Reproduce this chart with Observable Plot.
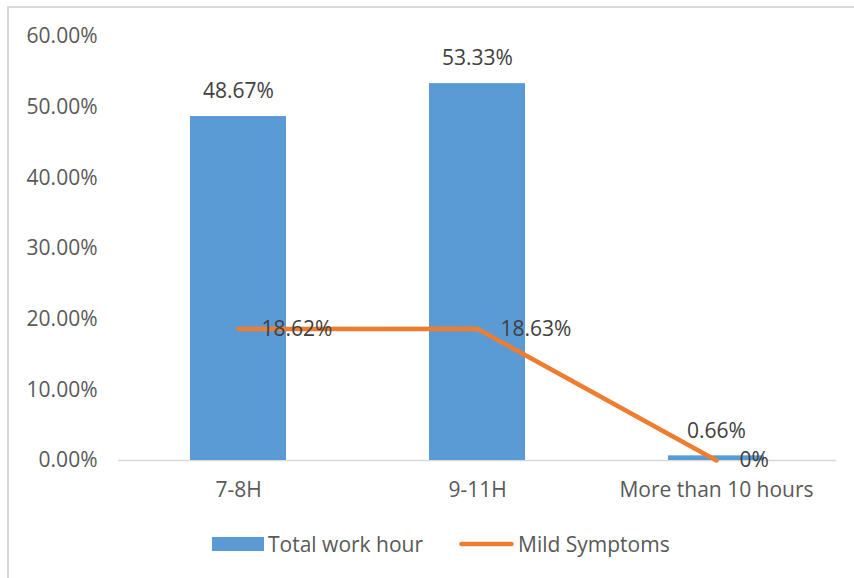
<!DOCTYPE html>
<html>
<head>
<meta charset="utf-8">
<script src="https://cdn.jsdelivr.net/npm/d3@7"></script>
<script src="https://cdn.jsdelivr.net/npm/@observablehq/plot@0.6"></script>
<style>
  html, body { margin: 0; padding: 0; background: #fff; }
  #wrap { position: relative; width: 854px; height: 578px; overflow: hidden; font-family: "Open Sans", sans-serif; }
  #frame { position: absolute; left: 7px; top: 6px; right: -10px; bottom: -10px; border-left: 2px solid #d9d9d9; border-top: 2px solid #d9d9d9; }
  #chart { position: absolute; left: 0; top: 0; }
  #legend { position: absolute; left: 0; top: 524px; width: 854px; height: 40px; font-size: 21px; color: #595959; }
  .item { position: absolute; top: 0; display: flex; align-items: center; height: 40px; }
  .sw { display: inline-block; margin-right: 4px; }
</style>
</head>
<body>
<div id="wrap">
  <div id="frame"></div>
  <div id="chart"></div>
  <div id="legend"></div>
</div>
<script>
// Share of respondents by daily working hours
const categories = ["7-8H", "9-11H", "More than 10 hours"];
const totalWorkHour = [0.4867, 0.5333, 0.0066];
const mildSymptoms = [0.1862, 0.1863, 0];
const yTicks = [0, 0.1, 0.2, 0.3, 0.4, 0.5, 0.6];

const seriesNames = ["Total work hour", "Mild Symptoms"];
const colors = ["#5b9bd5", "#ed7d31"];

const bars = categories.map((c, i) => ({category: c, value: totalWorkHour[i]}));
const line = categories.map((c, i) => ({category: c, value: mildSymptoms[i]}));

const pct2 = d3.format(".2%");
const pctLabel = v => v === 0 ? "0%" : pct2(v);

const chart = Plot.plot({
  width: 854,
  height: 520,
  marginLeft: 118,
  marginRight: 18,
  marginTop: 36,
  marginBottom: 60,
  style: {fontFamily: "Open Sans, sans-serif", fontSize: "21px", color: "#595959", background: "transparent"},
  x: {domain: categories, paddingInner: 0.6, paddingOuter: 0.3, label: null},
  y: {domain: [0, 0.6], label: null},
  marks: [
    Plot.axisY({ticks: yTicks, tickFormat: pct2, tickSize: 0, tickPadding: 21, fontSize: 21, fill: "#595959"}),
    Plot.axisX({tickSize: 0, tickPadding: 22, fontSize: 21, fill: "#595959"}),
    Plot.ruleY([0], {stroke: "#d9d9d9", strokeWidth: 1.5}),
    Plot.barY(bars, {x: "category", y: "value", fill: colors[0]}),
    Plot.text(bars, {x: "category", y: "value", text: d => pctLabel(d.value), dy: -25, fill: "#404040", fontSize: 21}),
    Plot.line(line, {x: "category", y: "value", stroke: colors[1], strokeWidth: 4.5, strokeLinecap: "round", strokeLinejoin: "round"}),
    Plot.text(line, {x: "category", y: "value", text: d => pctLabel(d.value), textAnchor: "start", dx: 23, fill: "#404040", fontSize: 21})
  ]
});
document.getElementById("chart").appendChild(chart);

// Legend below the plot
const legend = d3.select("#legend");
const item1 = legend.append("div").attr("class", "item").style("left", "212px");
item1.append("span").attr("class", "sw").style("width", "52px").style("height", "14px").style("background", colors[0]);
item1.append("span").text(seriesNames[0]);

const item2 = legend.append("div").attr("class", "item").style("left", "459px");
const sw2 = item2.append("svg").attr("class", "sw").attr("width", 55).attr("height", 14);
sw2.append("line").attr("x1", 2.5).attr("x2", 52.5).attr("y1", 7).attr("y2", 7)
  .attr("stroke", colors[1]).attr("stroke-width", 4.5).attr("stroke-linecap", "round");
item2.append("span").text(seriesNames[1]);
</script>
</body>
</html>
